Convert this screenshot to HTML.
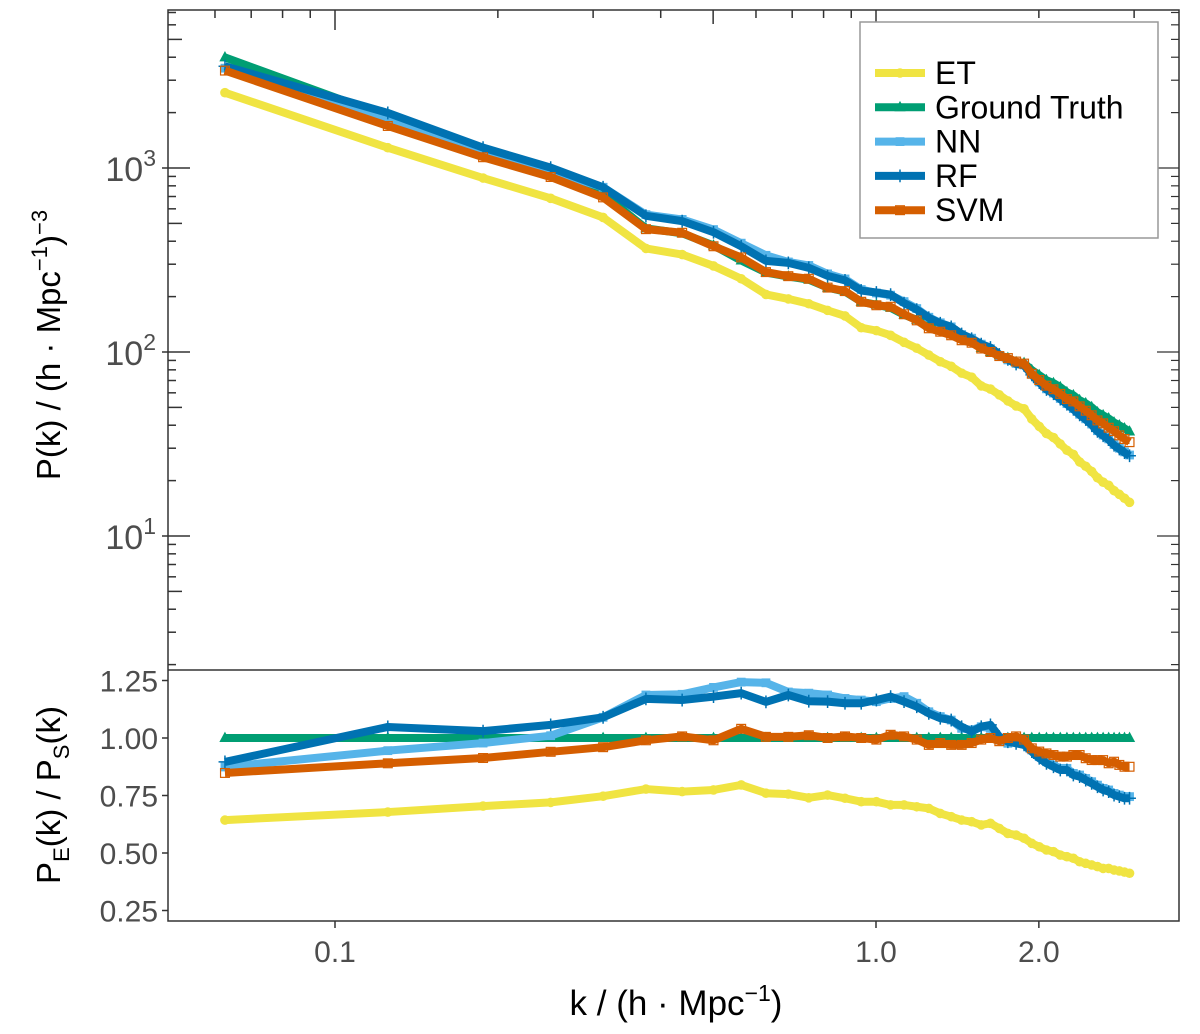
<!DOCTYPE html>
<html><head><meta charset="utf-8"><style>
html,body{margin:0;padding:0;background:#fff;}
svg{display:block;font-family:"Liberation Sans",Arial,sans-serif;}
</style></head><body>
<svg id="chart" width="1200" height="1034" viewBox="0 0 1200 1034" xmlns="http://www.w3.org/2000/svg">
<rect x="0" y="0" width="1200" height="1034" fill="#fff"/>
<g id="series-top"></g>
<g id="series-bot"></g>
<g id="axes"></g>
<g>
<rect x="860" y="22" width="298" height="216" fill="#fff" stroke="#999" stroke-width="1.5"/>
<g id="legend-items"></g>
</g>
<text transform="translate(60,345) rotate(-90)" text-anchor="middle" font-size="33" fill="#000">P(k) / (h · Mpc<tspan dy="-13" font-size="22">−1</tspan><tspan dy="13">)</tspan><tspan dy="-13" font-size="22">−3</tspan></text>
<text transform="translate(60,795) rotate(-90)" text-anchor="middle" font-size="33" fill="#000">P<tspan dy="9" font-size="22">E</tspan><tspan dy="-9">(k) / P</tspan><tspan dy="9" font-size="22">S</tspan><tspan dy="-9">(k)</tspan></text>
<text x="676" y="1015" text-anchor="middle" font-size="35" fill="#000">k / (h · Mpc<tspan dy="-14" font-size="23">−1</tspan><tspan dy="14">)</tspan></text>
</svg>
<script>
const kIndex = [1,2,3,4,5,6,7,8,9,10,11,12,13,14,15,16,17,18,19,20,21,22,23,24,25,26,27,28,29,30,31,32,33,34,35,36,37,38,39,40,41,42,43,44,45,46,47];
const kStep = 0.0626;
const gtLogP = [3.601,3.279,3.098,2.978,2.858,2.672,2.645,2.579,2.497,2.432,2.41,2.393,2.35,2.328,2.273,2.257,2.24,2.202,2.175,2.142,2.12,2.104,2.077,2.06,2.022,2.0,1.984,1.967,1.945,1.94,1.902,1.874,1.847,1.831,1.809,1.781,1.765,1.738,1.721,1.7,1.672,1.656,1.639,1.617,1.601,1.585,1.568];
const ratioET = [0.643,0.678,0.704,0.72,0.747,0.778,0.767,0.774,0.796,0.76,0.756,0.74,0.752,0.738,0.723,0.723,0.709,0.709,0.701,0.694,0.672,0.658,0.643,0.636,0.622,0.629,0.607,0.585,0.578,0.564,0.542,0.527,0.513,0.506,0.491,0.484,0.477,0.462,0.455,0.448,0.441,0.433,0.433,0.426,0.422,0.417,0.412];
const ratioGT = [1,1,1,1,1,1,1,1,1,1,1,1,1,1,1,1,1,1,1,1,1,1,1,1,1,1,1,1,1,1,1,1,1,1,1,1,1,1,1,1,1,1,1,1,1,1,1];
const ratioNN = [0.874,0.945,0.978,1.01,1.09,1.187,1.19,1.22,1.243,1.24,1.2,1.195,1.187,1.172,1.165,1.158,1.172,1.18,1.151,1.114,1.093,1.078,1.042,1.035,1.049,1.042,0.991,0.977,0.984,0.977,0.948,0.919,0.897,0.882,0.868,0.868,0.846,0.839,0.824,0.81,0.795,0.781,0.774,0.759,0.752,0.745,0.745];
const ratioRF = [0.896,1.048,1.03,1.057,1.09,1.17,1.165,1.18,1.195,1.157,1.187,1.16,1.158,1.151,1.151,1.165,1.18,1.158,1.136,1.107,1.086,1.078,1.049,1.028,1.049,1.057,1.006,0.984,0.977,0.97,0.941,0.912,0.89,0.875,0.861,0.861,0.839,0.832,0.817,0.803,0.788,0.774,0.767,0.752,0.745,0.738,0.738];
const ratioSVM = [0.848,0.89,0.913,0.94,0.96,0.99,1.007,0.99,1.04,1.005,1.005,1.012,1.0,1.007,1.0,0.993,1.014,1.007,0.993,0.97,0.978,0.97,0.97,0.978,0.993,1.0,0.986,1.0,1.007,0.993,0.955,0.941,0.933,0.926,0.919,0.919,0.926,0.926,0.912,0.904,0.904,0.904,0.89,0.897,0.883,0.875,0.875];
const seriesNames = ["ET","Ground Truth","NN","RF","SVM"];
const seriesColors = ["#F0E442","#009E73","#56B4E9","#0072B2","#D55E00"];
const seriesMarkers = ["circle","triangle","square","plus","opensquare"];
const yTopTicks = [1,2,3];
const yBotTicks = [0.25,0.5,0.75,1.0,1.25];
const yBotLabels = ["0.25","0.50","0.75","1.00","1.25"];
const xTicks = [0.1,1.0,2.0];
const xTickLabels = ["0.1","1.0","2.0"];

const NS="http://www.w3.org/2000/svg";
const L=168,R=1179,T=10,MID=670,B=921;
const xs=k=>335+541*Math.log10(k/0.1);
const yTop=lp=>168+(3-lp)*184;
const yBot=r=>738-(r-1)*230;
function mk(tag,attrs,parent){const e=document.createElementNS(NS,tag);for(const a in attrs)e.setAttribute(a,attrs[a]);parent.appendChild(e);return e;}
const ratios=[ratioET,ratioGT,ratioNN,ratioRF,ratioSVM];
const ks=kIndex.map(n=>n*kStep);

function marker(g,type,x,y,c,s){
  let e;
  if(type==="circle") e=mk("circle",{cx:x,cy:y,r:s*0.6,fill:c},g);
  else if(type==="triangle") e=mk("polygon",{points:`${x},${y-s*0.8} ${x-s*0.7},${y+s*0.5} ${x+s*0.7},${y+s*0.5}`,fill:c},g);
  else if(type==="square") e=mk("rect",{x:x-s*0.55,y:y-s*0.55,width:s*1.1,height:s*1.1,fill:c},g);
  else if(type==="plus") e=mk("path",{d:`M${x-s*0.8},${y}H${x+s*0.8}M${x},${y-s*0.8}V${y+s*0.8}`,stroke:c,"stroke-width":1.5,fill:"none"},g);
  else e=mk("rect",{x:x-s*0.55,y:y-s*0.55,width:s*1.1,height:s*1.1,fill:"none",stroke:c,"stroke-width":1.2},g);
  
  
}

const gTop=document.getElementById("series-top"), gBot=document.getElementById("series-bot");
ratios.forEach((rat,si)=>{
  const c=seriesColors[si];
  const topPts=ks.map((k,i)=>[xs(k),yTop(gtLogP[i]+Math.log10(rat[i]))]);
  const botPts=ks.map((k,i)=>[xs(k),yBot(rat[i])]);
  [[gTop,topPts,'top'],[gBot,botPts,'ratio']].forEach(([g,pts,nm])=>{
    const sg=mk("g",{},g);
    
    
    const p=mk("polyline",{points:pts.map(p=>p.join(",")).join(" "),fill:"none",stroke:c,"stroke-width":8,"stroke-linejoin":"round"},sg);
    
    
    pts.forEach(pt=>marker(sg,seriesMarkers[si],pt[0],pt[1],c,8));
  });
});

const ax=document.getElementById("axes");
mk("rect",{x:L,y:T,width:R-L,height:B-T,fill:"none",stroke:"#333","stroke-width":1.5},ax);
const div=mk("line",{x1:L,x2:R,y1:MID,y2:MID,stroke:"#333","stroke-width":1.5},ax);


for(let d=0;d<=3;d++){for(let m=1;m<=9;m++){const y=yTop(d+Math.log10(m));if(y<T||y>MID)continue;const len=m===1?22:(m===5?14:8);
  mk("line",{x1:L,x2:L+len,y1:y,y2:y,stroke:"#333","stroke-width":1.5},ax);
  if(m===1)mk("line",{x1:L-6,x2:L,y1:y,y2:y,stroke:"#333","stroke-width":1.5},ax);
  mk("line",{x1:R-(m===1?22:8),x2:R,y1:y,y2:y,stroke:"#333","stroke-width":1.2},ax);}}
[0.06,0.07,0.08,0.09,0.1,0.2,0.3,0.4,0.5,0.6,0.7,0.8,0.9,1,2,3].forEach(k=>{const x=xs(k);if(x<L||x>R)return;const m=Math.round(k/Math.pow(10,Math.floor(Math.log10(k)+1e-9)));const len=m===1?20:(m===5?14:8);
  mk("line",{x1:x,x2:x,y1:T,y2:T+len,stroke:"#333","stroke-width":1.5},ax);});
yTopTicks.forEach(d=>{const t=mk("text",{x:156,y:yTop(d)+13,"text-anchor":"end","font-size":34,fill:"#4d4d4d"},ax);
  
  
  t.innerHTML=`10<tspan dy="-15" font-size="23">${d}</tspan>`;});
yBotTicks.forEach((v,i)=>{const y=yBot(v);mk("line",{x1:L-6,x2:L,y1:y,y2:y,stroke:"#333","stroke-width":1.5},ax);
  const t=mk("text",{x:158,y:y+11,"text-anchor":"end","font-size":30,fill:"#4d4d4d"},ax);
  
  
  t.textContent=yBotLabels[i];});
xTicks.forEach((v,i)=>{const x=xs(v);mk("line",{x1:x,x2:x,y1:B,y2:B+7,stroke:"#333","stroke-width":1.5},ax);
  const t=mk("text",{x:x,y:962,"text-anchor":"middle","font-size":30,fill:"#4d4d4d"},ax);
  
  
  t.textContent=xTickLabels[i];});
const lg=document.getElementById("legend-items");
seriesNames.forEach((n,i)=>{const y=73+i*34.3;const g=mk("g",{},lg);
  
  
  mk("line",{x1:875,x2:925,y1:y,y2:y,stroke:seriesColors[i],"stroke-width":8},g);
  marker(g,seriesMarkers[i],900,y,seriesColors[i],8);
  const t=mk("text",{x:935,y:y+11,"font-size":32,fill:"#000"},g);t.textContent=n;});
</script>
</body></html>
